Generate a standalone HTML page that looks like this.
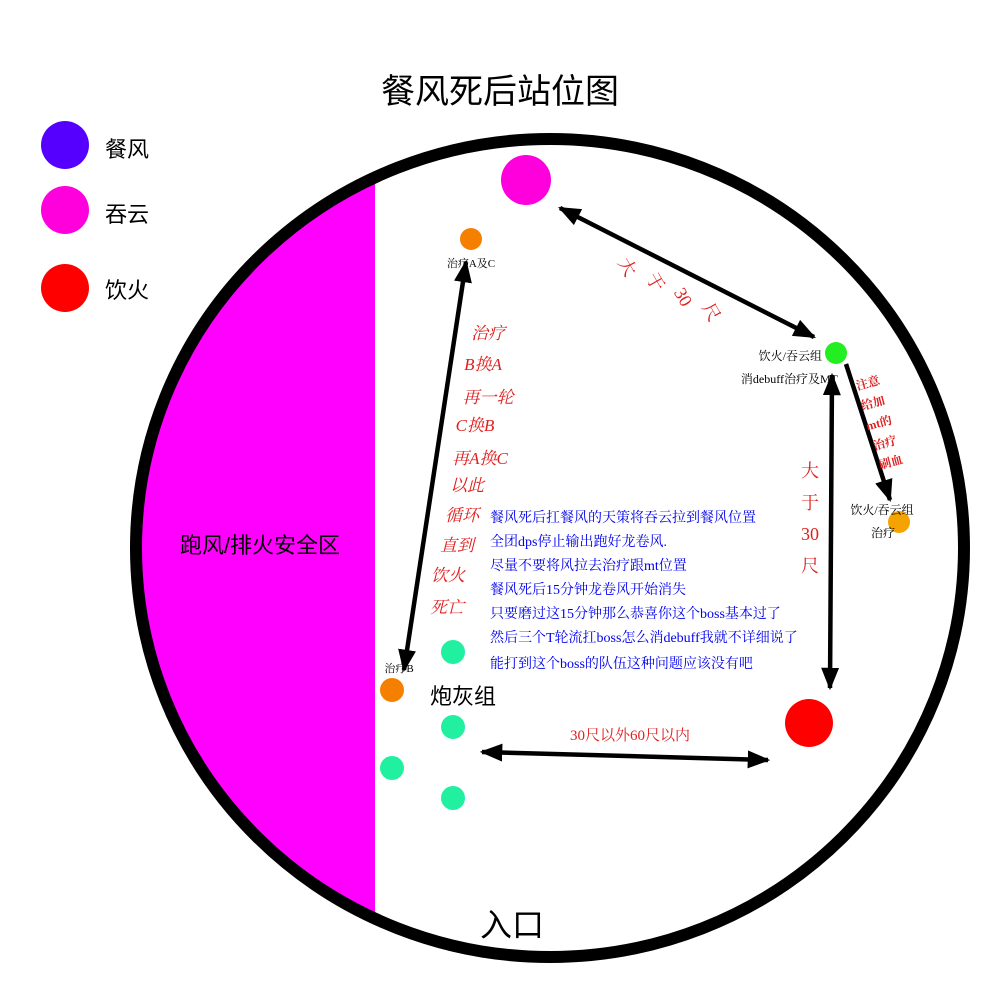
<!DOCTYPE html>
<html><head><meta charset="utf-8"><style>
html,body{margin:0;padding:0;background:#fff;}
svg{display:block;font-family:"Liberation Serif","Noto Serif CJK SC",serif;}
</style></head><body>
<svg width="1000" height="1000" viewBox="0 0 1000 1000" xmlns="http://www.w3.org/2000/svg">
<defs>
<clipPath id="c"><ellipse cx="550" cy="548" rx="414" ry="409"/></clipPath>
<marker id="ah" markerWidth="5" markerHeight="4" refX="4.5" refY="2" orient="auto-start-reverse" markerUnits="strokeWidth">
<path d="M0,0 L5,2 L0,4 z" fill="#000"/></marker>
</defs>
<rect x="0" y="0" width="375" height="1000" fill="#ff00ff" clip-path="url(#c)"/>
<ellipse cx="550" cy="548" rx="414" ry="409" fill="none" stroke="#000" stroke-width="12"/>
<text x="500" y="103" font-size="34" text-anchor="middle" font-family="Liberation Sans,Noto Sans CJK SC,sans-serif">餐风死后站位图</text>
<circle cx="65" cy="145" r="24" fill="#5500ff"/>
<circle cx="65" cy="210" r="24" fill="#ff00dd"/>
<circle cx="65" cy="288" r="24" fill="#ff0000"/>
<g font-size="22" font-family="Liberation Sans,Noto Sans CJK SC,sans-serif">
<text x="105" y="157">餐风</text><text x="105" y="222">吞云</text><text x="105" y="298">饮火</text>
<text x="260" y="553" text-anchor="middle">跑风/排火安全区</text>
<text x="463" y="704" text-anchor="middle">炮灰组</text>
<text x="512" y="936" text-anchor="middle" font-size="32">入口</text>
</g>
<g stroke="#000" stroke-width="4.5" fill="none">
<line x1="560" y1="208" x2="814" y2="337" marker-start="url(#ah)" marker-end="url(#ah)"/>
<line x1="832" y1="375" x2="830" y2="688" marker-start="url(#ah)" marker-end="url(#ah)"/>
<line x1="466" y1="262" x2="404" y2="670" marker-start="url(#ah)" marker-end="url(#ah)"/>
<line x1="482" y1="752" x2="768" y2="760" marker-start="url(#ah)" marker-end="url(#ah)"/>
<line x1="846" y1="364" x2="890" y2="500" marker-end="url(#ah)"/>
</g>
<circle cx="526" cy="180" r="25" fill="#ff00dd"/>
<circle cx="471" cy="239" r="11" fill="#f58000"/>
<circle cx="836" cy="353" r="11" fill="#22ee22"/>
<circle cx="899" cy="522" r="11" fill="#f5a300"/>
<circle cx="392" cy="690" r="12" fill="#f58000"/>
<circle cx="809" cy="723" r="24" fill="#ff0000"/>
<g fill="#20f0a0"><circle cx="453" cy="652" r="12"/><circle cx="453" cy="727" r="12"/><circle cx="392" cy="768" r="12"/><circle cx="453" cy="798" r="12"/></g>
<g font-size="11" fill="#000">
<text x="471" y="267" text-anchor="middle">治疗A及C</text>
<text x="399" y="672" text-anchor="middle">治疗B</text>
<text x="822" y="360" text-anchor="end" font-size="12">饮火/吞云组</text>
<text x="838" y="383" text-anchor="end" font-size="12">消debuff治疗及MT</text>
<text x="882" y="514" text-anchor="middle" font-size="12">饮火/吞云组</text>
<text x="883" y="537" text-anchor="middle" font-size="12">治疗</text>
</g>
<g fill="#e02020" font-size="17" font-style="italic" text-anchor="middle">
<text x="488" y="339">治疗</text><text x="483" y="370">B换A</text><text x="488" y="403">再一轮</text>
<text x="475" y="431">C换B</text><text x="480" y="464">再A换C</text><text x="467" y="491">以此</text>
<text x="462" y="521">循环</text><text x="457" y="551">直到</text><text x="448" y="581">饮火</text><text x="447" y="613">死亡</text>
</g>
<g fill="#e02020" font-size="18" text-anchor="middle">
<text x="810" y="477">大</text><text x="810" y="509">于</text><text x="810" y="540">30</text><text x="810" y="572">尺</text>
<text transform="translate(622,270) rotate(60)">大</text>
<text transform="translate(650,285) rotate(60)">于</text>
<text transform="translate(678,300) rotate(60)">30</text>
<text transform="translate(706,315) rotate(60)">尺</text>
<text x="630" y="740" font-size="15">30尺以外60尺以内</text>
</g>
<g fill="#e02020" font-size="12" font-weight="bold" text-anchor="middle">
<text transform="translate(869,387) rotate(-15)">注意</text>
<text transform="translate(874,407) rotate(-15)">给加</text>
<text transform="translate(880,427) rotate(-15)">mt的</text>
<text transform="translate(886,447) rotate(-15)">治疗</text>
<text transform="translate(892,466) rotate(-15)">刷血</text>
</g>
<g fill="#0000ee" font-size="14">
<text x="490" y="522">餐风死后扛餐风的天策将吞云拉到餐风位置</text>
<text x="490" y="546">全团dps停止输出跑好龙卷风.</text>
<text x="490" y="570">尽量不要将风拉去治疗跟mt位置</text>
<text x="490" y="594">餐风死后15分钟龙卷风开始消失</text>
<text x="490" y="618">只要磨过这15分钟那么恭喜你这个boss基本过了</text>
<text x="490" y="642">然后三个T轮流扛boss怎么消debuff我就不详细说了</text>
<text x="490" y="668">能打到这个boss的队伍这种问题应该没有吧</text>
</g>
</svg>
</body></html>
